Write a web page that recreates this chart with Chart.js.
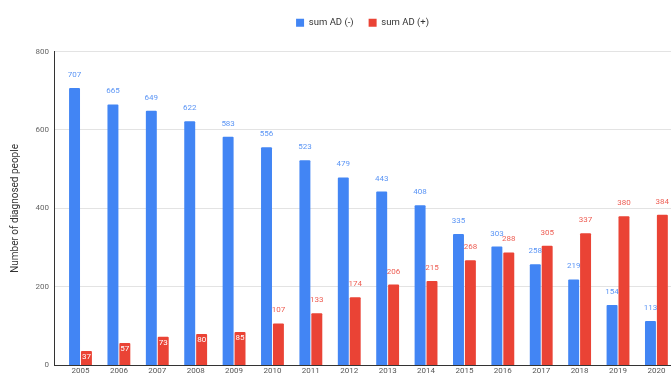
<!DOCTYPE html>
<html>
<head>
<meta charset="utf-8">
<script src="https://cdn.jsdelivr.net/npm/chart.js@4/dist/chart.umd.min.js"></script>
<style>
  html, body { margin: 0; padding: 0; background: #fff; }
  .chart { width: 671px; height: 377px; }
</style>
</head>
<body>
<div class="chart"><canvas id="c"></canvas></div>
<script>
const YEARS = ['2005', '2006', '2007', '2008', '2009', '2010', '2011', '2012', '2013', '2014', '2015', '2016', '2017', '2018', '2019', '2020'];
const AD_NEG = [707, 665, 649, 622, 583, 556, 523, 479, 443, 408, 335, 303, 258, 219, 154, 113];
const AD_POS = [37, 57, 73, 80, 85, 107, 133, 174, 206, 215, 268, 288, 305, 337, 380, 384];
const Y_TICKS = [0, 200, 400, 600, 800];

const BLUE = '#4285f4';
const RED = '#ea4335';
const FONT = 'Roboto, "Liberation Sans", sans-serif';

// value labels on top of bars (white and inside for short red bars)
const valueLabels = {
  id: 'valueLabels',
  afterDatasetsDraw(chart) {
    const ctx = chart.ctx;
    ctx.save();
    ctx.font = '8px ' + FONT;
    ctx.textAlign = 'center';
    chart.data.datasets.forEach((ds, i) => {
      const meta = chart.getDatasetMeta(i);
      meta.data.forEach((bar, j) => {
        const v = ds.data[j];
        if (i === 1 && v < 100) {
          ctx.fillStyle = '#fff';
          ctx.textBaseline = 'top';
          ctx.fillText(v, bar.x, bar.y + 2);
        } else {
          ctx.fillStyle = i === 0 ? '#5b95f5' : '#ee5f55';
          ctx.textBaseline = 'bottom';
          ctx.fillText(v, bar.x, bar.y - 9);
        }
      });
    });
    ctx.restore();
  }
};

// more room between the legend and the plot
const legendGap = {
  id: 'legendGap',
  beforeInit(chart) {
    const fit = chart.legend.fit;
    chart.legend.fit = function () {
      fit.call(this);
      this.height += 14;
    };
  }
};

new Chart(document.getElementById('c'), {
  type: 'bar',
  data: {
    labels: YEARS,
    datasets: [
      { label: 'sum AD (-)', data: AD_NEG, backgroundColor: BLUE, borderRadius: 1 },
      { label: 'sum AD (+)', data: AD_POS, backgroundColor: RED, borderRadius: 1 },
    ],
  },
  options: {
    animation: false,
    responsive: true,
    maintainAspectRatio: false,
    datasets: { bar: { categoryPercentage: 0.62, barPercentage: 0.92 } },
    layout: { padding: { top: 3, right: 0, bottom: 0, left: 0 } },
    plugins: {
      legend: {
        position: 'top',
        fullSize: false,
        labels: {
          boxWidth: 8,
          boxHeight: 8,
          padding: 15,
          color: '#333',
          font: { family: FONT, size: 9.5 },
        },
      },
      tooltip: { enabled: false },
    },
    scales: {
      x: {
        afterBuildTicks(axis) {
          axis._startValue = -0.69;
          axis._valueRange = 16.07;
        },
        grid: { display: false, drawTicks: false },
        border: { display: true, color: '#333' },
        ticks: { color: '#555', font: { family: FONT, size: 8 }, padding: 1, maxRotation: 0 },
      },
      y: {
        min: 0,
        max: 800,
        afterFit(axis) { axis.width = 54; },
        afterBuildTicks(axis) { axis.ticks = Y_TICKS.map((v) => ({ value: v })); },
        grid: { color: '#e3e3e3', drawTicks: false },
        border: { display: true, color: '#333' },
        ticks: { color: '#666', font: { family: FONT, size: 8 }, padding: 5 },
        title: {
          display: true,
          text: 'Number of diagnosed people',
          color: '#333',
          font: { family: FONT, size: 10 },
          padding: { top: 9, bottom: 0 },
        },
      },
    },
  },
  plugins: [valueLabels, legendGap],
});
</script>
</body>
</html>
